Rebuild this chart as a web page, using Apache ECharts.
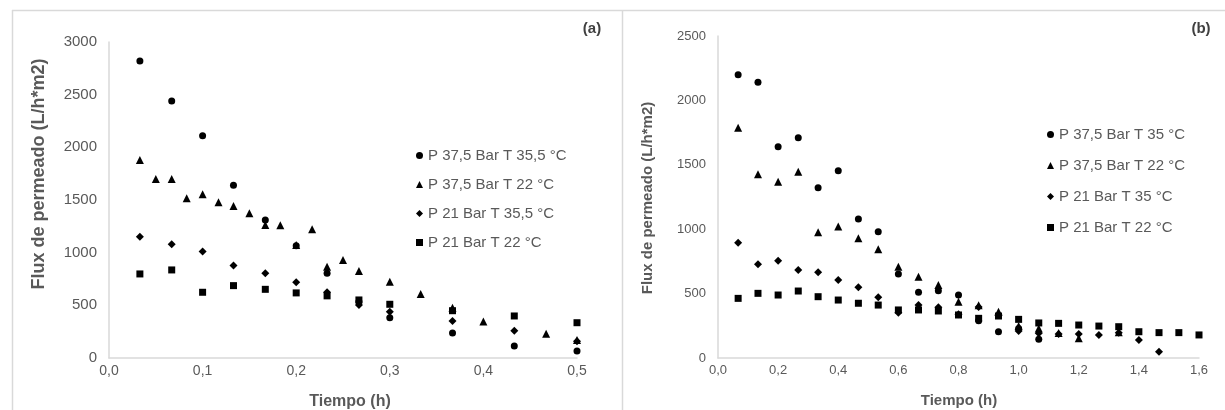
<!DOCTYPE html>
<html>
<head>
<meta charset="utf-8">
<script src="https://cdn.jsdelivr.net/npm/echarts@6/dist/echarts.min.js"></script>
<style>
  html, body { margin: 0; padding: 0; background: #fff; }
  #chart { width: 1225px; height: 410px; }
</style>
</head>
<body>
<div id="chart"></div>
<script>
// Panel (a): permeate flux vs time, short runs
const timeA_p375_t355 = [0.033, 0.067, 0.1, 0.133, 0.167, 0.2, 0.233, 0.267, 0.3, 0.367, 0.433, 0.5];
const fluxA_p375_t355 = [2820, 2440, 2110, 1640, 1310, 1065, 804, 535, 383, 238, 114, 67];

const timeA_p375_t22 = [0.033, 0.05, 0.067, 0.083, 0.1, 0.117, 0.133, 0.15, 0.167, 0.183, 0.2, 0.217, 0.233, 0.25, 0.267, 0.3, 0.333, 0.367, 0.4, 0.467, 0.5];
const fluxA_p375_t22 = [1880, 1700, 1700, 1517, 1555, 1479, 1443, 1374, 1262, 1260, 1072, 1222, 867, 931, 826, 725, 608, 478, 347, 230, 171];

const timeA_p21_t355 = [0.033, 0.067, 0.1, 0.133, 0.167, 0.2, 0.233, 0.267, 0.3, 0.367, 0.433, 0.5];
const fluxA_p21_t355 = [1152, 1080, 1010, 877, 804, 719, 625, 503, 440, 352, 259, 160];

const timeA_p21_t22 = [0.033, 0.067, 0.1, 0.133, 0.167, 0.2, 0.233, 0.267, 0.3, 0.367, 0.433, 0.5];
const fluxA_p21_t22 = [798, 836, 624, 687, 652, 618, 590, 551, 510, 449, 399, 335];

// Panel (b): permeate flux vs time, long runs
const timeB_p375_t35 = [0.067, 0.133, 0.2, 0.267, 0.333, 0.4, 0.467, 0.533, 0.6, 0.667, 0.733, 0.8, 0.867, 0.933, 1.0, 1.067];
const fluxB_p375_t35 = [2200, 2140, 1640, 1710, 1322, 1454, 1079, 981, 652, 510, 523, 489, 290, 204, 230, 145];

const timeB_p375_t22 = [0.067, 0.133, 0.2, 0.267, 0.333, 0.4, 0.467, 0.533, 0.6, 0.667, 0.733, 0.8, 0.867, 0.933, 1.0, 1.067, 1.133, 1.2, 1.333];
const fluxB_p375_t22 = [1788, 1426, 1369, 1447, 976, 1020, 929, 844, 709, 631, 567, 437, 410, 360, 248, 230, 195, 153, 200];

const timeB_p21_t35 = [0.067, 0.133, 0.2, 0.267, 0.333, 0.4, 0.467, 0.533, 0.6, 0.667, 0.733, 0.8, 0.867, 0.933, 1.0, 1.067, 1.133, 1.2, 1.267, 1.333, 1.4, 1.467];
const fluxB_p21_t35 = [895, 727, 755, 683, 665, 606, 549, 471, 352, 411, 394, 340, 395, 334, 210, 192, 186, 186, 179, 197, 140, 49];

const timeB_p21_t22 = [0.067, 0.133, 0.2, 0.267, 0.333, 0.4, 0.467, 0.533, 0.6, 0.667, 0.733, 0.8, 0.867, 0.933, 1.0, 1.067, 1.133, 1.2, 1.267, 1.333, 1.4, 1.467, 1.533, 1.6];
const fluxB_p21_t22 = [463, 502, 489, 520, 476, 450, 425, 411, 373, 373, 365, 334, 308, 326, 300, 272, 269, 256, 248, 243, 204, 197, 197, 179];

// Legend labels
const namesA = ['P 37,5 Bar T 35,5 °C', 'P 37,5 Bar T 22 °C', 'P 21 Bar T 35,5 °C', 'P 21 Bar T 22 °C'];
const namesB = ['P 37,5 Bar T 35 °C', 'P 37,5 Bar T 22 °C', 'P 21 Bar T 35 °C', 'P 21 Bar T 22 °C'];
const symbols = ['circle', 'triangle', 'diamond', 'rect'];
const symbolSizes = [7, 8, 8, 7];

const yTitle = 'Flux de permeado (L/h*m2)';
const xTitle = 'Tiempo (h)';

const TEXT = '#595959';
const LINE = '#d9d9d9';
const FONT = '"Liberation Sans", Arial, sans-serif';

const pairs = (xs, ys) => xs.map((x, i) => [x, ys[i]]);
const comma1 = v => v.toFixed(1).replace('.', ',');
const plain = v => String(v);

const seriesA = [
  pairs(timeA_p375_t355, fluxA_p375_t355),
  pairs(timeA_p375_t22, fluxA_p375_t22),
  pairs(timeA_p21_t355, fluxA_p21_t355),
  pairs(timeA_p21_t22, fluxA_p21_t22)
];
const seriesB = [
  pairs(timeB_p375_t35, fluxB_p375_t35),
  pairs(timeB_p375_t22, fluxB_p375_t22),
  pairs(timeB_p21_t35, fluxB_p21_t35),
  pairs(timeB_p21_t22, fluxB_p21_t22)
];

function scatter(name, data, idx, k) {
  return {
    type: 'scatter',
    name: name,
    xAxisIndex: idx,
    yAxisIndex: idx,
    data: data,
    symbol: symbols[k],
    symbolSize: symbolSizes[k],
    itemStyle: { color: '#000', opacity: 1 },
    emphasis: { disabled: true },
    z: 10 - k
  };
}

function xAxis(idx, max, fs) {
  return {
    type: 'value', gridIndex: idx, min: 0, max: max, interval: idx === 0 ? 0.1 : 0.2,
    axisLine: { show: true, lineStyle: { color: LINE, width: 1.5 } },
    axisTick: { show: false },
    splitLine: { show: false },
    axisLabel: { color: TEXT, fontSize: fs, fontFamily: FONT, margin: 6, formatter: comma1 }
  };
}
function yAxis(idx, max, fs) {
  return {
    type: 'value', gridIndex: idx, min: 0, max: max, interval: 500,
    axisLine: { show: true, lineStyle: { color: LINE, width: 1.5 } },
    axisTick: { show: false },
    splitLine: { show: false },
    axisLabel: { color: TEXT, fontSize: fs, fontFamily: FONT, margin: 12, formatter: plain }
  };
}
function legend(names, left, top, gap) {
  return {
    orient: 'vertical', left: left, top: top, itemGap: gap,
    itemWidth: 7, itemHeight: 7, selectedMode: false,
    data: names.map((n, k) => ({ name: n, icon: symbols[k] })),
    textStyle: { color: TEXT, fontSize: 15, fontFamily: FONT }
  };
}

const chart = echarts.init(document.getElementById('chart'), null, { renderer: 'canvas' });
chart.setOption({
  backgroundColor: '#fff',
  animation: false,
  grid: [
    { left: 109, right: 648, top: 42, bottom: 52 },
    { left: 718, right: 26, top: 36, bottom: 52 }
  ],
  xAxis: [xAxis(0, 0.5, 14), xAxis(1, 1.6, 13)],
  yAxis: [yAxis(0, 3000, 15), yAxis(1, 2500, 13)],
  legend: [
    legend(namesA, 411, 143, 14),
    legend(namesB, 1042, 122, 16)
  ],
  series: [
    ...seriesA.map((d, k) => scatter(namesA[k], d, 0, k)),
    ...seriesB.map((d, k) => scatter(namesB[k], d, 1, k))
  ],
  graphic: [
    // panel frames
    { type: 'line', shape: { x1: 12, y1: 10.5, x2: 1225, y2: 10.5 }, style: { stroke: LINE, lineWidth: 1.5 }, silent: true },
    { type: 'line', shape: { x1: 12.5, y1: 10, x2: 12.5, y2: 410 }, style: { stroke: LINE, lineWidth: 1.5 }, silent: true },
    { type: 'line', shape: { x1: 622.5, y1: 10, x2: 622.5, y2: 410 }, style: { stroke: LINE, lineWidth: 1.5 }, silent: true },
    // panel tags
    { type: 'text', x: 592, y: 29, style: { text: '(a)', font: 'bold 15px ' + FONT, fill: '#404040', align: 'center', verticalAlign: 'middle' }, silent: true },
    { type: 'text', x: 1201, y: 29, style: { text: '(b)', font: 'bold 15px ' + FONT, fill: '#404040', align: 'center', verticalAlign: 'middle' }, silent: true },
    // axis titles
    { type: 'text', x: 39, y: 174, rotation: Math.PI / 2, style: { text: yTitle, font: 'bold 18px ' + FONT, fill: TEXT, align: 'center', verticalAlign: 'middle' }, silent: true },
    { type: 'text', x: 648, y: 198, rotation: Math.PI / 2, style: { text: yTitle, font: 'bold 15px ' + FONT, fill: TEXT, align: 'center', verticalAlign: 'middle' }, silent: true },
    { type: 'text', x: 350, y: 402, style: { text: xTitle, font: 'bold 16px ' + FONT, fill: TEXT, align: 'center', verticalAlign: 'middle' }, silent: true },
    { type: 'text', x: 959, y: 401, style: { text: xTitle, font: 'bold 15px ' + FONT, fill: TEXT, align: 'center', verticalAlign: 'middle' }, silent: true }
  ]
});
</script>
</body>
</html>
